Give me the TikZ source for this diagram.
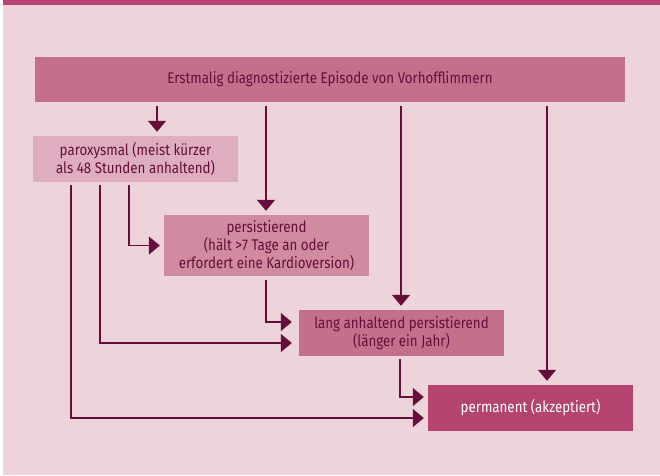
\documentclass[tikz,border=0pt]{standalone}
\usepackage{fontspec}
\setmainfont{Fira Sans}[FakeStretch=0.86]
\usetikzlibrary{arrows.meta}
\definecolor{bgpink}{HTML}{EDD4DB}
\definecolor{band}{HTML}{B54572}
\definecolor{boxmid}{HTML}{C4708D}
\definecolor{boxlight}{HTML}{DEAEC0}
\definecolor{boxpers}{HTML}{D08BA0}
\definecolor{boxdark}{HTML}{B4446F}
\definecolor{ink}{HTML}{660D3B}
\begin{document}
\begin{tikzpicture}[x=1pt,y=-1pt,
  stage/.style={minimum width=205pt,minimum height=46pt,inner sep=0pt,
    align=center,text=ink,font=\fontsize{15.5}{18}\selectfont},
  flow/.style={draw=ink,line width=1.4pt,
    -{Triangle[width=18pt,length=11pt]},shorten <=4pt,shorten >=4pt},
  flowfar/.style={flow,shorten >=7pt}]
  % page background and top band
  \useasboundingbox (0,0) rectangle (660,475);
  \fill[bgpink] (3,0) rectangle (660,475);
  \fill[band] (3,0) rectangle (660,5);

  % stages
  \node[stage,fill=boxmid,minimum width=590pt,minimum height=45pt] (top) at (330,79.5)
    {Erstmalig diagnostizierte Episode von Vorhofflimmern};
  \node[stage,fill=boxlight] (parox) at (135.5,159)
    {paroxysmal (meist kürzer\\als 48 Stunden anhaltend)};
  \node[stage,fill=boxpers,minimum height=61pt] (pers) at (266.5,245.5)
    {persistierend\\(hält >7 Tage an oder\\erfordert eine Kardioversion)};
  \node[stage,fill=boxmid] (lang) at (401.5,333)
    {lang anhaltend persistierend\\(länger ein Jahr)};
  \node[stage,fill=boxdark,text=white] (perm) at (530.5,408)
    {permanent (akzeptiert)};

  % vertical routes
  \coordinate (c1) at (157,0);
  \coordinate (c2) at (266,0);
  \coordinate (c3) at (401,0);
  \coordinate (c4) at (547,0);
  \coordinate (p1) at (71,0);
  \coordinate (p2) at (100,0);
  \coordinate (p3) at (129,0);
  \coordinate (l1) at (400,0);
  \coordinate (y1) at (0,322);
  \coordinate (y2) at (0,343);
  \coordinate (y3) at (0,397);
  \coordinate (y4) at (0,418);

  % from the first episode
  \draw[flow] (top.south -| c1) -- (parox.north -| c1);
  \draw[flow] (top.south -| c2) -- (pers.north -| c2);
  \draw[flow] (top.south -| c3) -- (lang.north -| c3);
  \draw[flow] (top.south -| c4) -- (perm.north -| c4);

  % from paroxysmal
  \draw[flow,shorten <=3pt] (parox.south -| p3) |- (pers.west);
  \draw[flowfar,shorten <=3pt] (parox.south -| p2) |- (lang.west |- y2);
  \draw[flow,shorten <=3pt] (parox.south -| p1) |- (perm.west |- y4);

  % further progression
  \draw[flowfar] (pers.south -| c2) |- (lang.west |- y1);
  \draw[flow,shorten <=3pt] (lang.south -| l1) |- (perm.west |- y3);
\end{tikzpicture}
\end{document}
